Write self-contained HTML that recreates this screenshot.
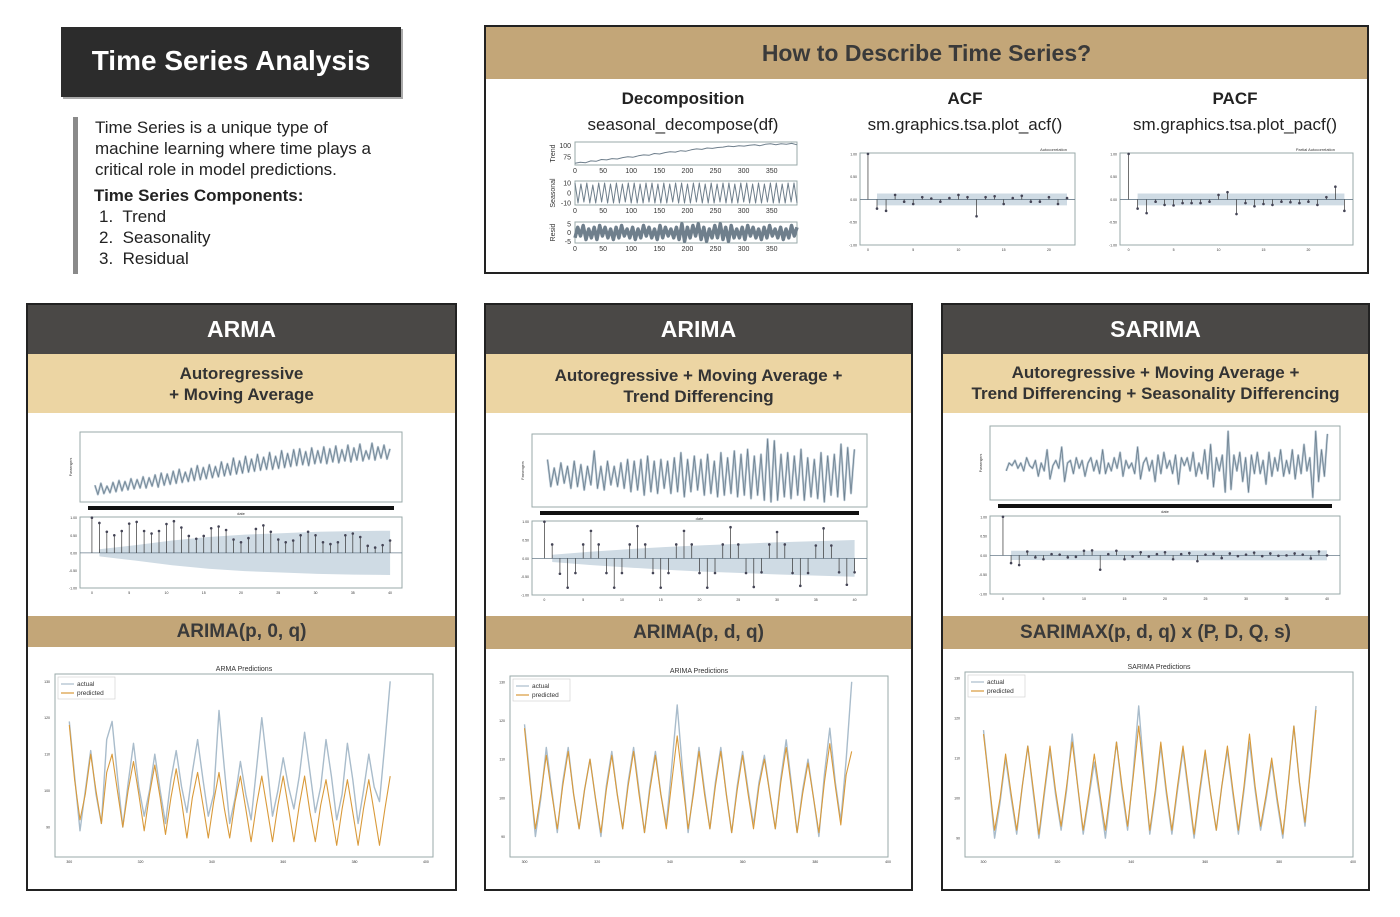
<!DOCTYPE html>
<html><head><meta charset="utf-8">
<style>
body{margin:0;width:1400px;height:917px;background:#fff;position:relative;overflow:hidden;font-family:"Liberation Sans",sans-serif;}
.abs{position:absolute;box-sizing:border-box;}
.title{left:61px;top:27px;width:340px;height:70px;background:#2c2c2c;color:#fff;font-weight:bold;font-size:28px;text-align:center;line-height:68px;box-shadow:2px 2px 0 #aaa;}
.intro{left:73px;top:117px;width:5px;height:157px;background:#8a8a8a;}
.itext{left:95px;top:117px;width:300px;font-size:17px;color:#222;line-height:21px;}
.panel{border:2px solid #222;background:#fff;}
.hdr{left:0;right:0;text-align:center;}
.dark{background:#4a4846;color:#fff;font-weight:bold;font-size:23px;}
.light{background:#ecd5a3;color:#333;font-weight:bold;font-size:17px;line-height:21px;}
.tan{background:#c3a678;color:#3a3a3a;font-weight:bold;}
.colh{font-size:17px;font-weight:bold;color:#222;text-align:center;width:260px;}
.colc{font-size:17px;color:#222;text-align:center;width:280px;}
svg text{font-family:"Liberation Sans",sans-serif;}
</style></head><body>
<div class="abs title">Time Series Analysis</div>
<div class="abs intro"></div>
<div class="abs itext">
<div>Time Series is a unique type of machine learning where time plays a critical role in model predictions.</div>
<div style="font-weight:bold;margin-top:5px;margin-left:-1px">Time Series Components:</div>
<div style="margin-left:4px">1.&nbsp; Trend</div>
<div style="margin-left:4px">2.&nbsp; Seasonality</div>
<div style="margin-left:4px">3.&nbsp; Residual</div>
</div>

<div class="abs panel" style="left:484px;top:25px;width:885px;height:249px">
 <div class="abs hdr tan" style="top:0;height:52px;line-height:52px;font-size:23px">How to Describe Time Series?</div>
 <div class="abs colh" style="left:67px;top:62px">Decomposition</div>
 <div class="abs colc" style="left:57px;top:88px">seasonal_decompose(df)</div>
 <div class="abs colh" style="left:349px;top:62px">ACF</div>
 <div class="abs colc" style="left:339px;top:88px">sm.graphics.tsa.plot_acf()</div>
 <div class="abs colh" style="left:619px;top:62px">PACF</div>
 <div class="abs colc" style="left:609px;top:88px">sm.graphics.tsa.plot_pacf()</div>
</div>

<div class="abs panel" style="left:26px;top:303px;width:431px;height:588px">
 <div class="abs hdr dark" style="top:0;height:49px;line-height:49px">ARMA</div>
 <div class="abs hdr light" style="top:49px;height:59px;padding-top:9px">Autoregressive<br>+ Moving Average</div>
 <div class="abs hdr tan" style="top:311px;height:31px;line-height:31px;font-size:19px">ARIMA(p, 0, q)</div>
</div>
<div class="abs panel" style="left:484px;top:303px;width:429px;height:588px">
 <div class="abs hdr dark" style="top:0;height:49px;line-height:49px">ARIMA</div>
 <div class="abs hdr light" style="top:49px;height:59px;padding-top:11px">Autoregressive + Moving Average +<br>Trend Differencing</div>
 <div class="abs hdr tan" style="top:311px;height:33px;line-height:33px;font-size:19px">ARIMA(p, d, q)</div>
</div>
<div class="abs panel" style="left:941px;top:303px;width:429px;height:588px">
 <div class="abs hdr dark" style="top:0;height:49px;line-height:49px">SARIMA</div>
 <div class="abs hdr light" style="top:49px;height:59px;padding-top:8px">Autoregressive + Moving Average +<br>Trend Differencing + Seasonality Differencing</div>
 <div class="abs hdr tan" style="top:311px;height:33px;line-height:33px;font-size:19px">SARIMAX(p, d, q) x (P, D, Q, s)</div>
</div>

<svg id="charts" class="abs" style="left:0;top:0" width="1400" height="917"></svg>

<script>
// ---------- data ----------
const decompTicks=[0,50,100,150,200,250,300,350];
const trendVals=[62,64,63,67,66,70,69,72,71,74,76,75,78,80,79,83,82,85,87,86,89,88,91,93,92,95,94,96,97,99,98,100,99,101,102,100,103,104,102,104,103,105,102];
const seasonalVals=[10,-10,9,-9,10,-10,8,-10,10,-9,10,-10,9,-10,10,-10,9,-9,10,-10,10,-10,9,-10,10,-9,10,-10,9,-10,10,-10,9,-9,10,-10,10,-10,9,-10,10,-9,10,-10,9,-10,10,-10,9,-9,10,-10,10,-10,9,-10,10,-9,10,-10,9,-10,10,-10,9,-9,10,-10,10,-10,9,-10,10,-9,10,-10];
const residVals=[-3,3,-2,4,-4,2,-3,3,-4,4,-2,3,-3,2,-4,3,-3,4,-2,2,-3,3,-4,2,-3,4,-2,3,-3,2,-4,4,-3,3,-2,2,-3,3,-4,5,-5,3,-3,4,-2,5,-4,3,-5,2,-3,4,-3,5,-4,3,-5,4,-3,2,-3,3,-4,4,-2,3,-3,2,-4,3,-3,4,-2,2,-3,3,-4,2,-3,4,-2,3];
const acfTop=[1,-0.2,-0.25,0.1,-0.05,-0.1,0.05,0.02,-0.05,0.03,0.1,0.05,-0.37,0.05,0.07,-0.1,0.03,0.08,-0.05,-0.05,0.05,-0.1,0.03];
const pacfTop=[1,-0.2,-0.3,-0.05,-0.12,-0.13,-0.08,-0.08,-0.08,-0.05,0.1,0.16,-0.32,-0.08,-0.15,-0.1,-0.12,-0.05,-0.06,-0.08,-0.05,-0.12,0.05,0.28,-0.25];
const topBand=[0.13,0.13];
const armaSeries=[73,63,75,64,72,65,76,66,78,67,77,68,80,69,79,70,82,70,81,72,84,71,86,73,85,74,88,75,90,76,87,77,91,78,94,79,92,80,95,81,93,82,98,83,96,84,102,85,99,86,104,87,101,88,106,89,103,90,108,90,104,91,110,92,107,93,111,94,112,95,109,94,113,96,110,97,114,96,112,98,115,97,111,99,116,98,113,100,117,99,110,101,118,100,114,102,116,101,112];
const armaAcf=[1,0.85,0.6,0.5,0.62,0.83,0.88,0.62,0.55,0.62,0.82,0.9,0.72,0.48,0.4,0.48,0.7,0.75,0.65,0.38,0.3,0.42,0.68,0.78,0.6,0.38,0.3,0.35,0.5,0.6,0.5,0.3,0.25,0.3,0.5,0.55,0.45,0.2,0.15,0.22,0.35];
const armaBand=[0.1,0.22,0.35,0.45,0.52,0.56,0.6,0.62,0.63];
const arimaSeries=[10,-6,5,-5,8,-4,6,-7,9,-6,7,-8,6,-5,15,-7,6,-8,9,-5,6,-6,8,-7,10,-9,9,-8,10,-11,12,-9,9,-10,10,-7,9,-10,11,-9,14,-12,10,-9,12,-8,10,-11,13,-10,9,-12,14,-11,11,-10,15,-12,13,-11,16,-13,12,-11,13,-14,22,-15,21,-14,13,-12,14,-13,12,-11,16,-14,11,-12,10,-13,14,-15,12,-11,13,-12,19,-14,17,-10,16];
const arimaAcf=[1,0.38,-0.42,-0.8,-0.4,0.38,0.75,0.38,-0.4,-0.8,-0.4,0.38,0.88,0.38,-0.4,-0.8,-0.4,0.38,0.75,0.38,-0.4,-0.8,-0.4,0.38,0.85,0.38,-0.4,-0.78,-0.38,0.38,0.72,0.38,-0.4,-0.75,-0.4,0.35,0.82,0.35,-0.38,-0.72,-0.38];
const arimaBand=[0.1,0.18,0.25,0.31,0.36,0.4,0.44,0.47,0.5];
const sarimaSeries=[-2,1,0,2,-1,1,-2,3,0,-1,2,-4,1,-2,6,-5,0,2,-1,7,-6,1,2,-3,3,-1,2,-4,1,3,-2,2,-3,6,-3,1,-2,3,-1,5,-4,2,-1,1,-3,7,-5,1,3,-2,2,-6,4,-3,5,-1,2,-3,4,-7,3,0,3,-2,5,-4,1,-3,6,-5,8,-8,3,-2,4,-10,13,-9,4,-2,5,-6,3,-10,4,-3,5,-3,2,-7,5,-4,3,-2,6,-4,2,-3,6,-5,4,-3,8,-2,3,-12,13,-6,6,-4,12];
const sarimaAcf=[1,-0.2,-0.25,0.1,-0.05,-0.1,0.03,0.02,-0.05,-0.04,0.12,0.13,-0.37,0.03,0.12,-0.1,-0.03,0.08,-0.03,0.03,0.08,-0.1,0.03,0.06,-0.15,0.02,0.04,-0.07,0.05,-0.02,0.02,0.07,-0.02,0.05,-0.01,0,0.05,0.02,-0.08,0.1,0];
const sarimaBand=[0.12,0.13];
const predTicksX=[300,320,340,360,380,400];
const predTicksY=[90,100,110,120,130];
const armaActual=[119,104,89,100,111,99,91,114,119,104,90,102,113,101,93,100,110,100,91,103,111,101,94,105,114,103,93,99,122,106,91,98,108,99,92,106,120,107,93,100,109,101,95,104,116,105,94,101,114,104,92,99,113,103,91,100,110,101,97,113,130];
const armaPred=[118,103,92,99,110,100,91,105,110,100,90,100,108,99,89,99,107,98,88,98,106,97,87,98,105,96,87,97,105,95,87,97,104,95,86,96,104,95,86,96,104,95,86,96,104,94,86,96,103,94,85,95,103,94,85,95,103,94,85,95,104];
const arimaActual=[119,105,90,100,113,102,91,104,113,101,92,102,110,100,90,103,112,101,92,104,113,102,91,103,112,101,93,108,124,107,91,102,113,102,92,104,113,101,91,103,112,102,93,104,111,101,92,105,115,103,91,102,110,100,90,106,118,104,94,110,130];
const arimaPred=[118,104,92,101,111,101,92,103,112,101,92,102,110,100,91,102,111,101,92,103,112,101,91,102,111,101,92,104,116,104,92,101,112,101,92,103,112,101,91,102,111,101,92,103,110,101,92,104,113,102,91,101,109,100,91,104,114,103,93,106,112];
const sarimaActual=[117,104,90,99,110,100,91,103,113,101,90,101,112,101,92,102,116,103,91,100,109,100,90,102,114,102,92,106,123,106,91,101,113,101,91,102,112,101,90,101,111,101,92,103,112,101,91,102,114,102,92,100,109,99,90,104,118,104,93,108,123];
const sarimaPred=[116,104,92,100,111,101,92,103,113,102,91,102,113,102,93,103,114,103,92,101,111,101,92,103,114,103,93,105,118,105,92,102,114,102,92,103,113,102,91,102,112,101,92,103,113,102,92,103,116,103,93,101,110,100,91,104,118,104,94,107,122];

// ---------- helpers ----------
const NS='http://www.w3.org/2000/svg';
const svg=document.getElementById('charts');
function el(tag,attrs){const e=document.createElementNS(NS,tag);for(const k in attrs)e.setAttribute(k,attrs[k]);svg.appendChild(e);return e;}
function sc(d0,d1,r0,r1){return v=>r0+(v-d0)/(d1-d0)*(r1-r0);}
function frame(x,y,w,h,name){
  const r=el('rect',{x:x,y:y,width:w,height:h,fill:'#fff',stroke:'#9aa','stroke-width':1});
  
  
}
function txt(x,y,s,size,anchor,name,extra){
  const t=el('text',Object.assign({x:x,y:y,'font-size':size,'text-anchor':anchor||'middle',fill:'#333'},extra||{}));
  t.textContent=s;
  
  
}
function line(vals,x0,dx,sx,sy,color,w,name){
  const pts=vals.map((v,i)=>sx(x0+i*dx).toFixed(1)+','+sy(v).toFixed(1)).join(' ');
  const p=el('polyline',{points:pts,fill:'none',stroke:color,'stroke-width':w,'stroke-linejoin':'round'});
  
  
}
function acf(vals,band,x,y,w,h,pre,ticksEvery){
  frame(x,y,w,h,pre+'-frame');
  const n=vals.length-1;
  const sx=sc(-n*0.04,n*1.04,x,x+w), sy=sc(-1,1.02,y+h,y);
  const bx=band.map((b,i)=>1+i*(n-1)/(band.length-1));
  const up=band.map((b,i)=>sx(bx[i]).toFixed(1)+','+sy(b).toFixed(1));
  const dn=band.map((b,i)=>sx(bx[i]).toFixed(1)+','+sy(-b).toFixed(1)).reverse();
  const pg=el('polygon',{points:up.concat(dn).join(' '),fill:'#cfdbe4'});
  
  
  const z=el('line',{x1:x,x2:x+w,y1:sy(0),y2:sy(0),stroke:'#6a7d8c','stroke-width':0.8});
  
  
  vals.forEach((v,i)=>{
    const s=el('line',{x1:sx(i),x2:sx(i),y1:sy(0),y2:sy(v),stroke:'#333','stroke-width':0.7});
    
    
    const c=el('circle',{cx:sx(i),cy:sy(v),r:1.3,fill:'#445'});
    
    
  });
  [-1,-0.5,0,0.5,1].forEach(t=>txt(x-3,sy(t)+1.5,t.toFixed(2),3.5,'end',pre+'-ytick'));
  for(let i=0;i<=n;i+=ticksEvery) txt(sx(i),y+h+6,String(i),3.5,'middle',pre+'-xtick');
}
function series(vals,x,y,w,h,dom,pre){
  frame(x,y,w,h,pre+'-frame');
  const sx=sc(-vals.length*0.05,vals.length*1.03,x,x+w), sy=sc(dom[0],dom[1],y+h,y);
  line(vals,0,1,sx,sy,'#b9c8d4',2.2,pre+'-line-halo');
  line(vals,0,1,sx,sy,'#6d808f',0.8,pre+'-line');
  const b=el('rect',{x:x+8,y:y+h+4,width:w-16,height:4,fill:'#111'});
  
  
  txt(x-8,y+h/2,'Passengers',3.5,'middle',pre+'-ylabel',{transform:'rotate(-90 '+(x-8)+' '+(y+h/2)+')'});
  txt(x+w/2,y+h+13,'date',4,'middle',pre+'-xlabel');
}
function pred(act,pr,x,y,w,h,dom,xr,title,pre){
  frame(x,y,w,h,pre+'-frame');
  const sx=sc(xr[0],xr[1],x,x+w), sy=sc(dom[0],dom[1],y+h,y);
  line(act,300,1.5,sx,sy,'#a9bccb',1.4,pre+'-actual-line');
  line(pr,300,1.5,sx,sy,'#d99a3a',1.1,pre+'-predicted-line');
  predTicksX.forEach(t=>txt(sx(t),y+h+6,String(t),3.5,'middle',pre+'-xtick'));
  predTicksY.forEach(t=>txt(x-5,sy(t)+1.5,String(t),3.5,'end',pre+'-ytick'));
  txt(x+w/2,y-3,title,7,'middle',pre+'-title');
  const lg=el('rect',{x:x+3,y:y+3,width:57,height:22,fill:'#fff',stroke:'#ccc','stroke-width':0.6});
  
  
  const l1=el('line',{x1:x+6,x2:x+19,y1:y+10,y2:y+10,stroke:'#a9bccb','stroke-width':1.2});
  
  
  const l2=el('line',{x1:x+6,x2:x+19,y1:y+19,y2:y+19,stroke:'#d99a3a','stroke-width':1.2});
  
  
  txt(x+22,y+12,'actual',6.5,'start',pre+'-legend-actual-label');
  txt(x+22,y+21,'predicted',6.5,'start',pre+'-legend-predicted-label');
}
function decomp(vals,y,h,dom,yt,label,pre,lw){
  const x=575,w=222;
  frame(x,y,w,h,pre+'-frame');
  const sx=sc(0,395,x,x+w), sy=sc(dom[0],dom[1],y+h,y);
  line(vals,0,395/(vals.length-1),sx,sy,'#6f7f8c',lw,pre+'-line');
  decompTicks.forEach(t=>txt(sx(t),y+h+8,String(t),7,'middle',pre+'-xtick'));
  yt.forEach(t=>txt(x-4,sy(t)+2.5,String(t),7,'end',pre+'-ytick'));
  txt(x-20,y+h/2,label,7,'middle',pre+'-ylabel',{transform:'rotate(-90 '+(x-20)+' '+(y+h/2)+')'});
}

// ---------- draw ----------
decomp(trendVals,142,23,[58,108],[100,75],'Trend','trend',1);
decomp(seasonalVals,181,24,[-12,12],[10,0,-10],'Seasonal','seasonal',1);
decomp(residVals,222,21,[-6,6],[5,0,-5],'Resid','resid',3.5);
acf(acfTop,topBand,860,153,215,92,'acf-top',5);
txt(1067,151,'Autocorrelation',4,'end','acf-top-title');
acf(pacfTop,topBand,1120,153,233,92,'pacf-top',5);
txt(1335,151,'Partial Autocorrelation',4,'end','pacf-top-title');

series(armaSeries,80,432,322,70,[55,130],'arma-series');
acf(armaAcf,armaBand,80,517,322,71,'arma-acf',5);
series(arimaSeries,532,434,335,73,[-18,25],'arima-series');
acf(arimaAcf,arimaBand,532,521,335,74,'arima-acf',5);
series(sarimaSeries,990,426,350,74,[-13,15],'sarima-series');
acf(sarimaAcf,sarimaBand,990,516,350,78,'sarima-acf',5);

pred(armaActual,armaPred,55,674,378,183,[81.8,132],[296,402],'ARMA Predictions','arma-pred');
pred(arimaActual,arimaPred,510,676,378,181,[84.7,131.5],[296,400],'ARIMA Predictions','arima-pred');
pred(sarimaActual,sarimaPred,965,672,388,185,[85.3,131.5],[295,400],'SARIMA Predictions','sarima-pred');
</script>
</body></html>
